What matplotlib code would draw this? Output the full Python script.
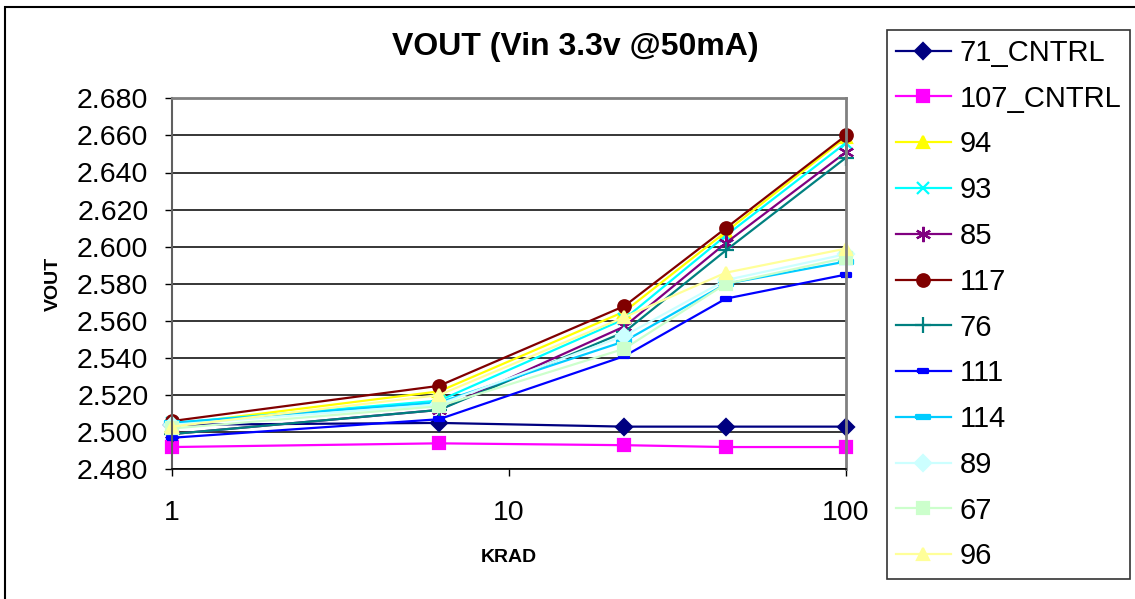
import numpy as np
import matplotlib.pyplot as plt
from matplotlib.patches import Rectangle
from matplotlib.ticker import FixedLocator, FormatStrFormatter, NullLocator

plt.rcParams['font.family'] = ['Liberation Sans', 'DejaVu Sans']

krad = [1, 6.2, 22, 44, 100]

v71_cntrl = [2.504, 2.505, 2.503, 2.503, 2.503]
v107_cntrl = [2.492, 2.494, 2.493, 2.492, 2.492]
v94 = [2.504, 2.522, 2.565, 2.608, 2.659]
v93 = [2.505, 2.517, 2.561, 2.606, 2.656]
v85 = [2.499, 2.512, 2.557, 2.602, 2.651]
v117 = [2.506, 2.525, 2.568, 2.610, 2.660]
v76 = [2.499, 2.512, 2.554, 2.598, 2.648]
v111 = [2.497, 2.507, 2.541, 2.572, 2.585]
v114 = [2.505, 2.516, 2.549, 2.580, 2.592]
v89 = [2.504, 2.515, 2.552, 2.582, 2.596]
v67 = [2.502, 2.514, 2.545, 2.580, 2.594]
v96 = [2.503, 2.520, 2.562, 2.586, 2.599]

labels = ["71_CNTRL", "107_CNTRL", "94", "93", "85", "117", "76", "111", "114", "89", "67", "96"]
series = [v71_cntrl, v107_cntrl, v94, v93, v85, v117, v76, v111, v114, v89, v67, v96]

bar_small = [(-1, -0.45), (1, -0.45), (1, 0.45), (-1, 0.45), (-1, -0.45)]
bar_long = [(-1, -0.3), (1, -0.3), (1, 0.3), (-1, 0.3), (-1, -0.3)]

styles = [
    ("#000080", "D", 8),
    ("#FF00FF", "s", 8),
    ("#FFFF00", "^", 9),
    ("#00FFFF", "x", 9),
    ("#800080", (6, 2, 0), 11),
    ("#800000", "o", 9),
    ("#008080", "+", 11),
    ("#0000FF", bar_small, 7),
    ("#00CCFF", bar_long, 10),
    ("#CCFFFF", "D", 8),
    ("#CCFFCC", "s", 8),
    ("#FFFF99", "^", 9),
]

fig = plt.figure(figsize=(11.35, 5.99), dpi=100)
ax = fig.add_axes([172 / 1135, 1 - 469.3 / 599, (846 - 172) / 1135, (469.3 - 98.3) / 599])

for vals, lab, (col, mk, ms) in zip(series, labels, styles):
    ax.plot(krad, vals, color=col, marker=mk, markersize=ms, lw=1.6,
            markeredgecolor=col, markerfacecolor=col, markeredgewidth=1.6,
            label=lab, clip_on=False)

ax.set_xscale("log")
ax.set_xlim(1, 100)
ax.set_ylim(2.480, 2.680)
ax.xaxis.set_major_locator(FixedLocator([1, 10, 100]))
ax.xaxis.set_minor_locator(NullLocator())
ax.set_xticklabels(["1", "10", "100"])
ax.yaxis.set_major_locator(FixedLocator(np.arange(2.480, 2.6801, 0.02)))
ax.yaxis.set_major_formatter(FormatStrFormatter("%.3f"))
ax.tick_params(axis="both", labelsize=20.5, direction="out", length=5, width=1, colors="black")
ax.tick_params(axis="x", pad=17)
ax.tick_params(axis="y", pad=12)
ax.grid(axis="y", color="black", lw=1.1)
ax.set_axisbelow(True)

for s in ["top", "right"]:
    ax.spines[s].set_color("#808080")
    ax.spines[s].set_linewidth(2)
ax.spines["left"].set_color("#606060")
ax.spines["left"].set_linewidth(1.5)
ax.spines["bottom"].set_color("black")
ax.spines["bottom"].set_linewidth(1.2)

ax.set_xlabel("KRAD", fontsize=14, fontweight="bold", labelpad=17)
ax.set_ylabel("VOUT", fontsize=14, fontweight="bold", labelpad=11)
fig.text(575 / 1135, 1 - 47 / 599, "VOUT (Vin 3.3v @50mA)", fontsize=23,
         fontweight="bold", ha="center", va="center")

leg = fig.legend(loc="upper left", bbox_to_anchor=(887 / 1135, 1 - 30 / 599),
                 fontsize=21, frameon=True, fancybox=False, edgecolor="black",
                 handlelength=1.9, handletextpad=0.28, labelspacing=0.61,
                 borderpad=0.3, borderaxespad=0)
leg.get_frame().set_linewidth(1.2)

fig.patches.append(Rectangle((5 / 1135, -0.02), 1.1, 1 - 7 / 599 + 0.02,
                             transform=fig.transFigure, fill=False,
                             edgecolor="black", lw=1.5))

plt.savefig("out.png", dpi=100)
